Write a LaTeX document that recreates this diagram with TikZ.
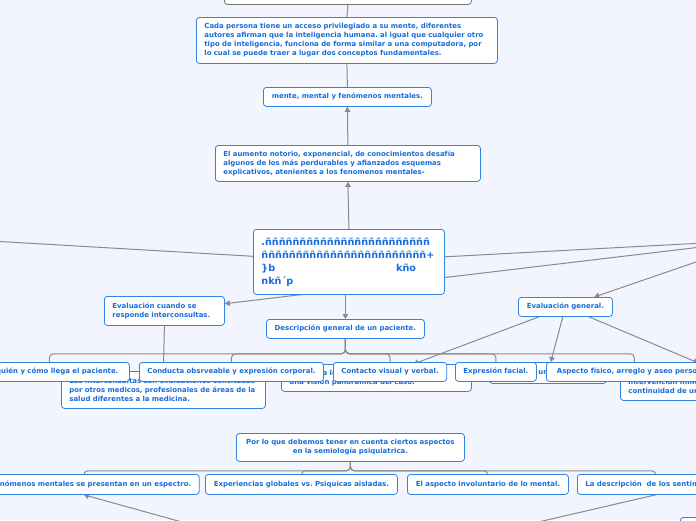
\documentclass[tikz,border=0pt]{standalone}
\usepackage{fontspec}
\setmainfont{DejaVu Sans}
\usepackage{tikz}
\usetikzlibrary{arrows.meta,backgrounds}
\frenchspacing
\definecolor{mapback}{RGB}{242,245,253}
\definecolor{topicblue}{RGB}{48,132,228}
\definecolor{topictext}{RGB}{22,108,220}
\definecolor{linkgray}{RGB}{138,138,140}
\definecolor{maingray}{RGB}{118,118,122}
\newcommand{\mapfont}{\fontsize{6.95}{9}\selectfont\bfseries}
\newcommand{\rootfont}{\fontsize{9.65}{13}\selectfont\bfseries}

\begin{document}
\begin{tikzpicture}[x=1pt,y=-1pt,
  topic/.style={draw=topicblue,fill=white,rounded corners=3pt,line width=0.8pt,
    text=topictext,font=\mapfont,inner xsep=8pt,inner ysep=2pt,anchor=north west},
  oneline/.style={topic,minimum width=#1,minimum height=19pt},
  link/.style={draw=linkgray,line width=1pt},
  arrowlink/.style={link,-{Triangle[length=5pt,width=5.5pt]}},
  branch/.style={link,rounded corners=4pt}]
\path[use as bounding box] (0,0) rectangle (696,520);
\begin{scope}[on background layer]
\fill[mapback] (0,0) rectangle (696,520);
\end{scope}

\node[topic,draw=maingray,minimum width=247pt,minimum height=34pt] (main) at (224,-30) {};
\node[topic,text width=285pt,minimum height=46pt,align=left] (persona) at (196,17)
  {Cada persona tiene un acceso privilegiado a su mente, diferentes\\autores afirman que la inteligencia humana. al igual que cualquier otro\\tipo de inteligencia, funciona de forma similar a una computadora, por\\lo cual se puede traer a lugar dos conceptos fundamentales.};
\node[oneline=168pt] (mente) at (263,87) {mente, mental y fenómenos mentales.};
\node[topic,text width=249pt,minimum height=36pt,align=left] (aumento) at (215,145)
  {El aumento notorio, exponencial, de conocimientos desafía\\algunos de los más perdurables y afianzados esquemas\\explicativos, atenientes a los fenomenos mentales-};
\node[topic,text width=175pt,minimum height=65pt,align=left,font=\rootfont] (root) at (253,229)
  {.ññññññññññññññññññññññññ\\ññññññññññññññññññññññññ+\\\}b\hspace{121pt}kño\\nkñ´p};
\node[topic,text width=104pt,minimum height=29pt,align=left] (interc) at (104,296) {Evaluación cuando se\\responde interconsultas.};
\node[oneline=158pt] (descr) at (266,319) {Descripción general de un paciente.};
\node[oneline=94pt] (evalgen) at (518,297) {Evaluación general.};

\node[topic,text width=188pt,minimum height=37pt,align=left] (intertext) at (61,371)
  {Las interconsultas son evaluaciones solicitadas\\por otros medicos, profesionales de áreas de la\\salud diferentes a la medicina.};
\node[topic,text width=174pt,minimum height=27pt,align=left] (vision) at (281,364)
  {Permite a los profesionales obtener\\una visión panorámica del caso.};
\node[topic,text width=101pt,minimum height=21pt,align=left] (estado) at (489,362) {Estado de un paciente.};
\node[topic,text width=230pt,minimum height=37pt,align=left] (intervencion) at (620,363)
  {Determinar si el paciente requiere una\\intervención inmediata o la\\continuidad de un tratamiento.};

\node[oneline=160pt] (porquien) at (-31,362) {Por quién y cómo llega el paciente.};
\node[oneline=184pt] (conducta) at (139,362) {Conducta obsrveable y expresión corporal.};
\node[oneline=112pt] (contacto) at (333,362) {Contacto visual y verbal.};
\node[oneline=81pt] (expresion) at (455,362) {Expresión facial.};
\node[oneline=176pt] (aspecto) at (546,362) {Aspecto físico, arreglo y aseo personal.};

\node[topic,text width=212pt,minimum height=28pt,align=center] (aspectos) at (236,433)
  {Por lo que debemos tener en cuenta ciertos aspectos\\en la semiología psiquiatrica.};
\node[oneline=228pt,minimum height=20pt] (fenomenos) at (-32,474) {Los fenómenos mentales se presentan en un espectro.};
\node[oneline=192pt,minimum height=20pt] (globales) at (205,474) {Experiencias globales vs. Psiquicas aisladas.};
\node[oneline=161pt,minimum height=20pt] (involuntario) at (407,474) {El aspecto involuntario de lo mental.};
\node[oneline=156pt,minimum height=20pt] (sentimientos) at (577,474) {La descripción\ \ de los sentimientos.};
\node[topic,minimum width=80pt,minimum height=40pt] (abajo) at (680,517) {};

\coordinate (farleft) at (-60,238);
\coordinate (farright) at (760,240);
\coordinate (farbelow) at (344,567);

\begin{scope}[on background layer]
\draw[link] (main.south) -- (persona.north);
\draw[link] (persona.south) -- (mente.north);
\draw[arrowlink] (aumento.north) -- (mente.south);
\draw[arrowlink] (root.north) -- (aumento.south);
\draw[link] (farleft) -- (root);
\draw[link] (root) -- (farright);
\draw[arrowlink] (farright) -- (interc);
\draw[arrowlink] (farright) -- (evalgen);
\draw[arrowlink] (descr.north |- root.south) -- (descr.north);
\draw[link] (interc.south) -- (intertext.north);
\foreach \child in {porquien,conducta,contacto,expresion,aspecto}
  \draw[branch] (descr.south) -- ++(0,15) -| (\child.north);
\draw[arrowlink] (evalgen) -- (vision);
\draw[arrowlink] (evalgen) -- (estado);
\draw[arrowlink] (evalgen) -- (intervencion);
\foreach \child in {fenomenos,globales,involuntario,sentimientos}
  \draw[branch] (aspectos.south) -- ++(0,9) -| (\child.north);
\draw[arrowlink] (farbelow) -- (fenomenos.south);
\draw[link] (sentimientos.south) -- (farbelow);
\end{scope}
\end{tikzpicture}
\end{document}
